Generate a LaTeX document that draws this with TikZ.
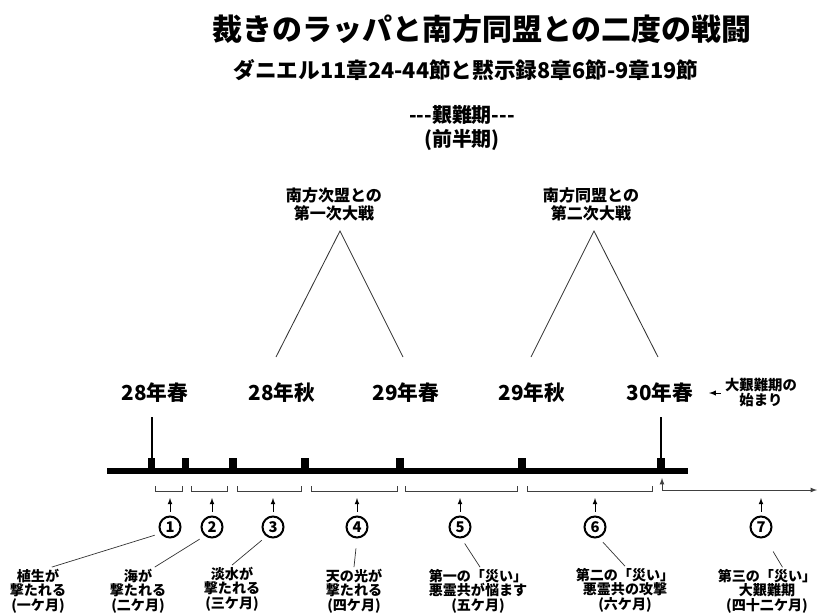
\documentclass[tikz,border=0pt]{standalone}
\usepackage{fontspec}
\newfontfamily\jp{Noto Sans CJK JP}
\tikzset{yr/.style={font=\jp\bfseries\fontsize{14.7}{17}\selectfont}}
\tikzset{war/.style={align=center,font=\jp\bfseries\fontsize{11.4}{12.8}\selectfont}}
\tikzset{lb/.style={align=center,inner sep=1pt,font=\jp\bfseries\fontsize{10}{10.4}\selectfont}}
\tikzset{cn/.style={circle,draw,line width=0.05cm,minimum size=0.525cm,inner sep=0pt,font=\jp\bfseries\fontsize{10.5}{12}\selectfont}}
\tikzset{tk/.style={fill,minimum width=0.18cm,minimum height=0.28cm,inner sep=0pt}}
\tikzset{br/.style={black!75,line width=0.6pt}}
\tikzset{up/.style={->,>=latex,line width=0.5pt,shorten <=0.1cm}}
\tikzset{ld/.style={black!80,line width=0.5pt,shorten <=0.15cm}}

\begin{document}
\begin{tikzpicture}[x=0.025cm,y=-0.025cm,font=\jp\bfseries]
\useasboundingbox (0,0) rectangle (818,614);
\node[font=\jp\bfseries\fontsize{21.3}{24}\selectfont] (title) at (482,29) {裁きのラッパと南方同盟との二度の戦闘};
\node[font=\jp\bfseries\fontsize{15.4}{18}\selectfont] (sub) at (466,70) {ダニエル11章24-44節と黙示録8章6節-9章19節};
\node[align=center,font=\jp\bfseries\fontsize{14.2}{16.4}\selectfont] (head) at (462,128) {-{}-{}-艱難期-{}-{}-\\(前半期)};
\node[war] (w1) at (334,204) {南方次盟との\\第一次大戦};
\node[war] (w2) at (591,204) {南方同盟との\\第二次大戦};
\draw[black!80,line width=0.6pt] (276,357) -- (340,231) -- (403,357);
\draw[black!80,line width=0.6pt] (531,357) -- (594,231) -- (658,357);
\node[yr] (y28s) at (155,393) {28年春};
\node[yr] (y28a) at (282,393) {28年秋};
\node[yr] (y29s) at (406,393) {29年春};
\node[yr] (y29a) at (532,393) {29年秋};
\node[yr] (y30s) at (660,393) {30年春};
\node[lb,inner sep=3pt,font=\jp\bfseries\fontsize{10.2}{10.6}\selectfont] (note) at (761,393) {大艱難期の\\始まり};
\draw[->,>=latex,line width=0.7pt,shorten >=0.27cm] (note.west) -- (y30s.east);
\draw[line width=0.15cm] (107,471) -- (688,471);
\node[tk] (k1) at (151.5,464) {};
\node[tk] (k2) at (185.5,464) {};
\node[tk] (k3) at (233,464) {};
\node[tk] (k4) at (305,464) {};
\node[tk] (k5) at (400,464) {};
\node[tk] (k6) at (522,464) {};
\node[tk] (k7) at (661,464) {};
\draw[line width=0.05cm] (k1.north) -- +(0,-41);
\draw[line width=0.05cm] (k7.north) -- +(0,-41);
\draw[br] (155,486) -- (155,491) -- (182,491) -- (182,486);
\draw[br] (191,486) -- (191,491) -- (227,491) -- (227,486);
\draw[br] (237,486) -- (237,491) -- (301,491) -- (301,486);
\draw[br] (311,486) -- (311,491) -- (397,491) -- (397,486);
\draw[br] (405,486) -- (405,491) -- (517,491) -- (517,486);
\draw[br] (527,486) -- (527,491) -- (652,491) -- (652,486);
\draw[br,<->,>=latex] (817,490) -| (662,478);
\node[cn] (c1) at (170,527) {1};
\node[cn] (c2) at (212,527) {2};
\node[cn] (c3) at (273,527) {3};
\node[cn] (c4) at (357,527) {4};
\node[cn] (c5) at (460,527) {5};
\node[cn] (c6) at (595,527) {6};
\node[cn] (c7) at (761,527) {7};
\coordinate (a1) at (170,498);
\coordinate (a2) at (212,498);
\coordinate (a3) at (273,498);
\coordinate (a4) at (357,498);
\coordinate (a5) at (460,498);
\coordinate (a6) at (595,498);
\coordinate (a7) at (761,498);
\draw[up] (c1) -- (a1);
\draw[up] (c2) -- (a2);
\draw[up] (c3) -- (a3);
\draw[up] (c4) -- (a4);
\draw[up] (c5) -- (a5);
\draw[up] (c6) -- (a6);
\draw[up] (c7) -- (a7);
\node[lb] (l1) at (38,591) {植生が\\撃たれる\\(一ケ月)};
\node[lb] (l2) at (138,591) {海が\\撃たれる\\(二ケ月)};
\node[lb] (l3) at (232,589) {淡水が\\撃たれる\\(三ケ月)};
\node[lb] (l4) at (354,591) {天の光が\\撃たれる\\(四ケ月)};
\node[lb] (l5) at (478,591) {第一の「災い」\\悪霊共が悩ます\\(五ケ月)};
\node[lb] (l6) at (625,590) {第二の「災い」\\悪霊共の攻撃\\(六ケ月)};
\node[lb] (l7) at (767,591) {第三の「災い」\\大艱難期\\(四十二ケ月)};
\draw[ld] (c1.214) -- (l1.60);
\draw[ld] (c2.231) -- (l2.55);
\draw[ld] (c3.235) -- (l3.north);
\draw[ld,shorten <=0.25cm] (c4.south) -- (l4.north);
\draw[ld] (c5.277) -- (l5.85);
\draw[ld] (c6.290) -- (l6.north);
\draw[ld,shorten <=0.4cm] (c7.290) -- (l7.57);
\end{tikzpicture}
\end{document}
